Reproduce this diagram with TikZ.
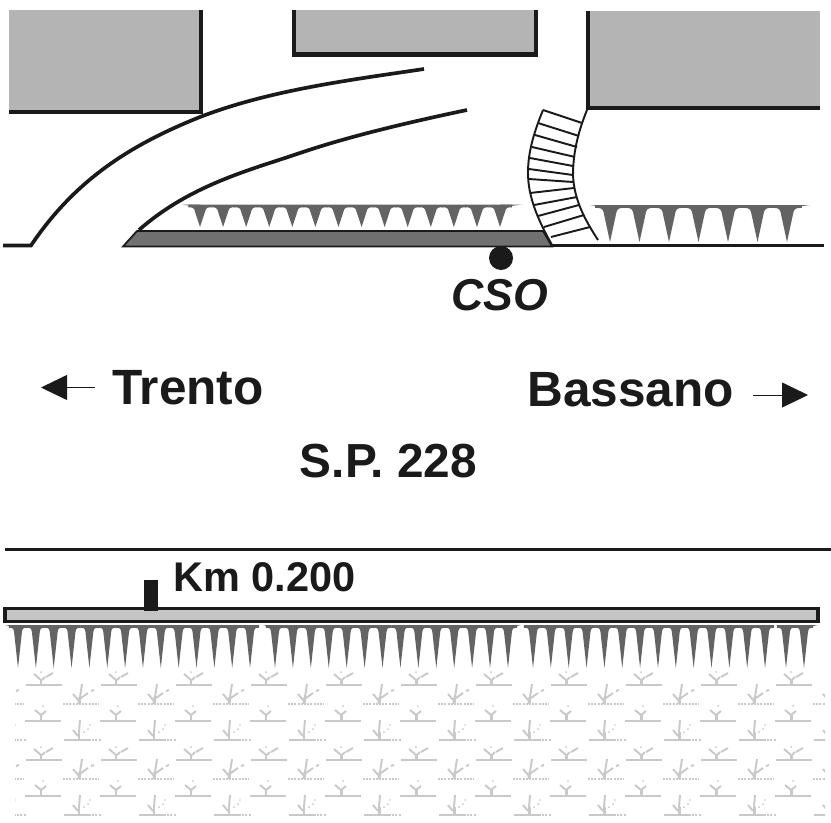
\documentclass[tikz,border=0pt]{standalone}
\usepackage{fontspec}
\setmainfont{Liberation Sans}
\usetikzlibrary{arrows.meta,positioning}
\definecolor{ink}{HTML}{1A1A1A}
\definecolor{block}{HTML}{B4B4B4}
\definecolor{rail}{HTML}{C4C4C4}
\definecolor{island}{HTML}{707070}
\definecolor{hedgegrey}{HTML}{636363}
\definecolor{plantgrey}{HTML}{C9C9C9}
% one row of teeth: left end, right end, first tip, pitch, count, top, tip
\newcommand{\hedgerow}[7]{
    \fill[hedgegrey] (#1,#6) -- (#3,#6) -- (#3,#6+3) -- cycle;
    \fill[hedgegrey] (#2,#6) -- (#3+#4*#5-#4,#6) -- (#3+#4*#5-#4,#6+3) -- cycle;
    \pgfmathtruncatemacro{\lastT}{#5-1}
    \foreach \t in {0,...,\lastT}{
        \pgfmathsetmacro{\xT}{#3+#4*\t}
        \pgfmathsetmacro{\wT}{#4*0.22}
        \fill[hedgegrey] (\xT-#4/2-.2,#6) -- (\xT+#4/2+.2,#6) -- (\xT+#4/2+.2,#6+3)
            .. controls (\xT+#4/2-3,#6+2.5) and (\xT+\wT+.5,#6+3) .. (\xT+\wT,#6+7)
            -- (\xT,#7) -- (\xT-\wT,#6+7)
            .. controls (\xT-\wT-.5,#6+3) and (\xT-#4/2+3,#6+2.5) .. (\xT-#4/2-.2,#6+3) -- cycle;
    }
}
\tikzset{
    wall/.style={line width=1.14pt, draw=ink},
    kerb/.style={line width=1.05pt, draw=ink},
    rung/.style={line width=.55pt, draw=ink},
    label/.style={font=\bfseries, text=ink, inner sep=0pt},
    plant/.style={draw=plantgrey, line width=.55pt},
    twig/.style={draw=plantgrey, line width=.85pt},
    crumbs/.style={draw=plantgrey, line width=.5pt, dash pattern=on .57pt off .34pt},
    pointer/.style={line width=.28pt, draw=ink, -{Triangle[length=7.4pt,width=7.1pt,fill=ink]}},
    plantA/.pic={
        \draw[plant] (-15,0) -- (21,0);
        \draw[twig] (0,0) -- (0,-5);
        \draw[plant] (0,-5) -- (-7,-11) (1,-5) -- (4,-8) (5,-8) -- (12,-12);
        \fill[plantgrey] (0,-13) circle (1);
    },
    plantB/.pic={
        \draw[crumbs] (-16,0) -- (20,0);
        \draw[twig] (0,0) -- (1,-7);
        \draw[plant] (1,-7) -- (3,-20) (-6,-10) -- (0,-3) (2,-6) -- (9,-11) (12,-13) -- (15,-14);
    },
    plantC/.pic={
        \draw[plant] (-16,0) -- (20,0);
        \draw[twig] (0,0) -- (0,-6);
        \draw[plant] (0,-6) -- (-6,-11) (0,-6) -- (5,-10);
        \fill[plantgrey] (2,-15) circle (1);
    },
    plantD/.pic={
        \draw[plant] (-15,0) -- (10,0);
        \draw[crumbs] (10,0) -- (22,0);
        \draw[twig] (0,0) -- (0,-8);
        \draw[plant] (0,-8) -- (1,-20) (-6,-10) -- (-1,-4);
        \fill[plantgrey] (5,-8) circle (1) (9,-11) circle (1) (11,-15) circle (.8);
    }
}

\begin{document}
\begin{tikzpicture}[x=0.1mm,y=-0.1mm]
    \useasboundingbox (0,0) rectangle (831,822);

    % buildings
    \fill[block] (9,10) rectangle (201,112);
    \draw[wall] (200.5,10) -- (200.5,112) -- (9,112);
    \fill[block] (292,10) rectangle (537,55);
    \draw[wall] (293.5,10) -- (293.5,54.5) -- (536,54.5) -- (536,10);
    \fill[block] (587,11) rectangle (820,109);
    \draw[wall] (588,11) -- (588,108) -- (820,108);

    % road edges
    \draw[kerb] (3,245.5) -- (31,245.5) .. controls (75,180) and (130,145) .. (200,117)
        .. controls (270,90) and (350,80) .. (424,69);
    \draw[kerb] (139,230) .. controls (190,185) and (250,170) .. (300,153)
        .. controls (350,136) and (410,122) .. (467,110);
    \draw[kerb] (552,245.5) -- (824,245.5);

    % hedges by the junction
    \hedgerow{182}{522}{200}{23.08}{14}{204.5}{227}
    \hedgerow{590}{810}{610}{29.5}{7}{205}{242}

    % traffic island
    \draw[fill=island,draw=ink,line width=.5pt] (137,231) -- (543,231) -- (552,246.5) -- (123,246.5) -- cycle;

    % crossing
    \draw[rung] (543,110) .. controls (532,137) and (528,155) .. (528,173)
        .. controls (528,197) and (538,220) .. (552,245);
    \draw[rung] (587,110) .. controls (578,132) and (573,153) .. (573,175)
        .. controls (574,200) and (585,220) .. (598,240);
    \foreach \xa/\ya/\xb/\yb in {543/110/582/123, 538/123/579/136, 535/135/577/147, 532/147/575/157,
        530/158/573/166, 529/169/573/175, 529/179/573/182, 530/193/574/188, 534/205/577/197,
        538/216/579/205, 544/227/584/215, 551/237/590/227}
        \draw[rung] (\xa,\ya) -- (\xb,\yb);

    % monitoring point
    \fill[ink] (501,258) circle (12);
    \node[label,font=\bfseries\itshape\fontsize{12.7}{15}\selectfont] (cso) at (500,295) {CSO};

    % directions
    \node[label,font=\bfseries\fontsize{14.1}{16}\selectfont] (trento) at (188,388) {Trento};
    \node[label,font=\bfseries\fontsize{14.1}{16}\selectfont] (bassano) at (630.5,390) {Bassano};
    \node[label,font=\bfseries\fontsize{13.6}{16}\selectfont] (road) at (388.5,461) {S.P. 228};
    \coordinate (trentoTail) at (95,387.5);
    \coordinate (trentoHead) at (41,387.5);
    \coordinate (bassanoTail) at (753,395);
    \coordinate (bassanoHead) at (808,395);
    \draw[pointer] (trentoTail) -- (trentoHead);
    \draw[pointer] (bassanoTail) -- (bassanoHead);

    % far side of the road
    \coordinate (farLeft) at (5,549.5);
    \coordinate (farRight) at (831,549.5);
    \draw[kerb] (farLeft) -- (farRight);
    \node[label,font=\bfseries\fontsize{11.8}{14}\selectfont] (km) at (264.5,577) {Km 0.200};
    \draw[fill=rail,draw=ink,line width=1pt] (5,608.5) rectangle (818,621.5);
    \fill[ink] (144,580) rectangle (158,611);

    % long hedge
    \hedgerow{5}{259}{18}{17.85}{14}{625}{668}
    \hedgerow{263}{521}{275}{17.92}{14}{625}{668}
    \hedgerow{525}{772}{533}{17.85}{14}{625}{668}
    \hedgerow{776}{818}{786}{18}{2}{625}{668}

    % field
    \begin{scope}
        \clip (15,670) rectangle (825,816);
        \foreach \c in {-1,...,10}{
            \pic at (41+75*\c,685) {plantA};
            \pic at (79+75*\c,704) {plantB};
            \pic at (41+75*\c,721) {plantC};
            \pic at (79+75*\c,740) {plantD};
            \pic at (41+75*\c,760) {plantA};
            \pic at (79+75*\c,779) {plantB};
            \pic at (41+75*\c,796) {plantC};
            \pic at (79+75*\c,815) {plantD};
        }
    \end{scope}
\end{tikzpicture}
\end{document}
